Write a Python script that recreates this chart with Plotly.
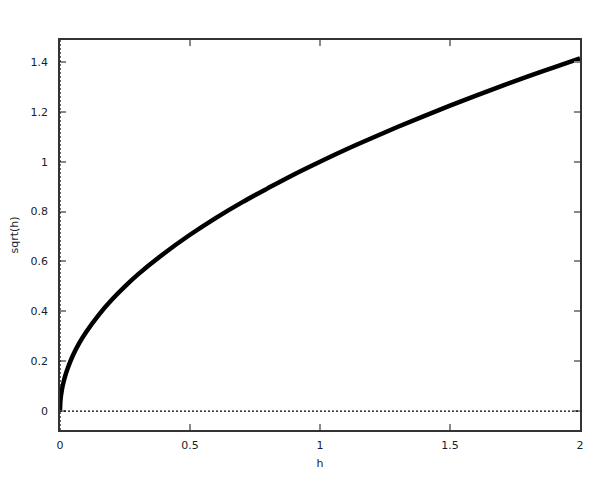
import plotly.graph_objects as go

# values
h = [0, 0.001, 0.003, 0.006, 0.01, 0.02, 0.03, 0.05, 0.075, 0.1, 0.15, 0.2, 0.25,
     0.3, 0.4, 0.5, 0.6, 0.7, 0.8, 0.9, 1.0, 1.1, 1.2, 1.3, 1.4, 1.5, 1.6, 1.7,
     1.8, 1.9, 2.0]
sqrt_h = [0, 0.032, 0.055, 0.077, 0.1, 0.141, 0.173, 0.224, 0.274, 0.316, 0.387,
          0.447, 0.5, 0.548, 0.632, 0.707, 0.775, 0.837, 0.894, 0.949, 1.0, 1.049,
          1.095, 1.14, 1.183, 1.225, 1.265, 1.304, 1.342, 1.378, 1.414]
x_ticks = [0, 0.5, 1, 1.5, 2]
y_ticks = [0, 0.2, 0.4, 0.6, 0.8, 1, 1.2, 1.4]

fig = go.Figure()
fig.add_trace(go.Scatter(x=h, y=sqrt_h, mode="lines",
                         line=dict(color="black", width=4.5, shape="spline"),
                         showlegend=False))

font = dict(family="DejaVu Sans", size=11, color="#1c1c2c")
axis_common = dict(showgrid=False, zeroline=False, showline=True, linecolor="#333333",
                   linewidth=1.5, mirror="allticks", ticks="inside", ticklen=6,
                   tickcolor="#888888", tickwidth=1.5, tickfont=font,
                   automargin=False)

# page body has an 8px margin, so the plot margins are shifted to compensate
fig.update_layout(
    width=600, height=500,
    margin=dict(l=52, r=28, t=32, b=78),
    plot_bgcolor="white", paper_bgcolor="white",
    font=font,
    xaxis=dict(range=[0, 2], tickvals=x_ticks, ticktext=[str(v) for v in x_ticks],
               ticklabelstandoff=4,
               title=dict(text="h", font=font, standoff=8), **axis_common),
    yaxis=dict(range=[-0.076, 1.488], tickvals=y_ticks,
               ticktext=["0", "0.2", "0.4", "0.6", "0.8", "1", "1.2", "1.4"],
               ticklabelstandoff=8,
               title=dict(text="sqrt(h)", font=font, standoff=12), **axis_common),
    shapes=[
        dict(type="line", xref="paper", x0=0, x1=1, yref="y", y0=0, y1=0,
             line=dict(color="black", width=1.2, dash="2px,2px")),
        dict(type="line", xref="x", x0=0, x1=0, yref="paper", y0=0, y1=1,
             line=dict(color="black", width=1.2, dash="2px,2px")),
    ],
)

fig.write_html("out.html")
